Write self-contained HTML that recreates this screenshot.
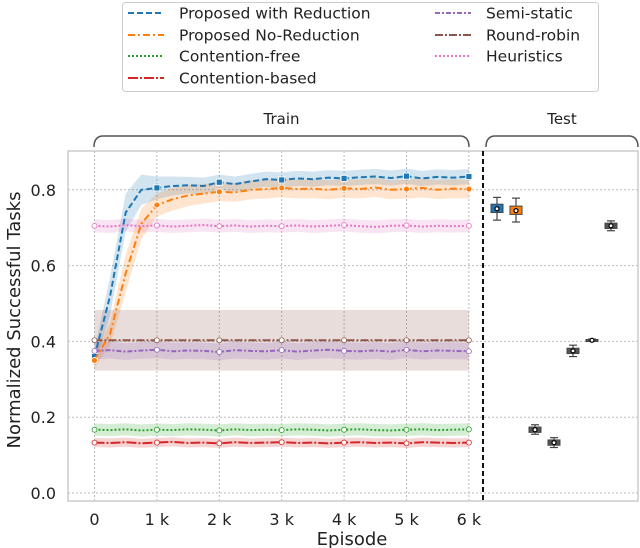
<!DOCTYPE html>
<html><head><meta charset="utf-8">
<style>
html,body{margin:0;padding:0;background:#fff;}
svg{display:block;font-family:"DejaVu Sans","Liberation Sans",sans-serif;}
</style></head>
<body>
<svg id="chart" width="640" height="548" viewBox="0 0 640 548" xmlns="http://www.w3.org/2000/svg">
<g id="grid"></g>
<g id="bands"></g>
<g id="lines"></g>
<g id="test"></g>
<g id="axes"></g>
<g id="legend"></g>
</svg>
<script>
const episodes = [0,250,500,750,1000,1250,1500,1750,2000,2250,2500,2750,3000,3250,3500,3750,4000,4250,4500,4750,5000,5250,5500,5750,6000];
const blueMean = [0.36,0.52,0.74,0.80,0.805,0.81,0.812,0.81,0.82,0.815,0.822,0.828,0.826,0.83,0.828,0.832,0.83,0.833,0.835,0.831,0.836,0.83,0.834,0.832,0.835];
const orangeMean = [0.35,0.42,0.58,0.71,0.76,0.775,0.785,0.79,0.795,0.793,0.8,0.802,0.805,0.802,0.803,0.8,0.804,0.802,0.806,0.8,0.802,0.805,0.8,0.803,0.802];
const blueStd = [0.02,0.05,0.05,0.04,0.03,0.025,0.022,0.022,0.02,0.02,0.02,0.02,0.02,0.02,0.02,0.02,0.02,0.02,0.02,0.02,0.02,0.02,0.02,0.02,0.02];
const orangeStd = [0.02,0.03,0.05,0.04,0.03,0.03,0.028,0.026,0.025,0.025,0.025,0.025,0.025,0.025,0.025,0.025,0.025,0.025,0.025,0.025,0.025,0.025,0.025,0.025,0.025];
const heurMean = [0.705,0.703,0.707,0.704,0.706,0.703,0.705,0.707,0.704,0.706,0.703,0.705,0.704,0.706,0.703,0.705,0.707,0.704,0.702,0.705,0.706,0.703,0.705,0.704,0.705];
const rrMean = [0.403,0.403,0.403,0.403,0.403,0.403,0.403,0.403,0.403,0.403,0.403,0.403,0.403,0.403,0.403,0.403,0.403,0.403,0.403,0.403,0.403,0.403,0.403,0.403,0.403];
const semiMean = [0.375,0.377,0.373,0.376,0.378,0.374,0.376,0.375,0.372,0.377,0.375,0.374,0.377,0.373,0.376,0.378,0.375,0.374,0.376,0.373,0.378,0.374,0.376,0.375,0.374];
const cfMean = [0.167,0.166,0.168,0.165,0.167,0.166,0.168,0.167,0.165,0.168,0.166,0.167,0.166,0.168,0.167,0.165,0.167,0.168,0.166,0.165,0.167,0.168,0.166,0.167,0.168];
const cbMean = [0.133,0.132,0.134,0.131,0.133,0.135,0.132,0.133,0.131,0.134,0.132,0.133,0.134,0.132,0.133,0.131,0.133,0.134,0.132,0.133,0.131,0.134,0.133,0.132,0.133];
const testNames = ["Proposed with Reduction","Proposed No-Reduction","Contention-free","Contention-based","Semi-static","Round-robin","Heuristics"];
const testMedian = [0.75,0.745,0.167,0.133,0.375,0.403,0.705];
const testQ1 = [0.74,0.735,0.16,0.126,0.368,0.401,0.698];
const testQ3 = [0.762,0.757,0.174,0.14,0.382,0.405,0.712];
const testLo = [0.72,0.715,0.155,0.12,0.36,0.4,0.692];
const testHi = [0.78,0.778,0.18,0.146,0.39,0.406,0.718];
const yTicks = [0,0.2,0.4,0.6,0.8];
const xTicks = [0,1000,2000,3000,4000,5000,6000];
const xTickLabels = ["0","1 k","2 k","3 k","4 k","5 k","6 k"];

const NS="http://www.w3.org/2000/svg";
const X0=94.5, XK=62.4, Y0=493, YU=379;
const xs=v=>X0+v/1000*XK, ys=v=>Y0-v*YU;
const testX=i=>497+i*19;
function mk(tag,attrs,parent,txt){const e=document.createElementNS(NS,tag);for(const k in attrs)e.setAttribute(k,attrs[k]);if(txt!==undefined)e.textContent=txt;parent.appendChild(e);return e;}
const G=id=>document.getElementById(id);

// plot frame
let f=mk('rect',{x:68,y:151,width:570,height:350,fill:'none',stroke:'#ccc','stroke-width':1.5},G('axes'));


// grid
yTicks.forEach((t,i)=>{
 let l=mk('line',{x1:68,x2:638,y1:ys(t),y2:ys(t),stroke:'#bbb','stroke-dasharray':'2,2'},G('grid'));
 
 
 let tx=mk('text',{x:56,y:ys(t)+6,'text-anchor':'end','font-size':16,fill:'#222'},G('axes'),t.toFixed(1));
 
 
});
xTicks.forEach((t,i)=>{
 let l=mk('line',{x1:xs(t),x2:xs(t),y1:151,y2:501,stroke:'#bbb','stroke-dasharray':'2,2'},G('grid'));
 
 
 let tx=mk('text',{x:xs(t),y:525,'text-anchor':'middle','font-size':16,fill:'#222'},G('axes'),xTickLabels[i]);
 
 
});
let dv=mk('line',{x1:483,x2:483,y1:151,y2:501,stroke:'#111','stroke-width':2,'stroke-dasharray':'5,3'},G('axes'));


let yt=mk('text',{x:20,y:320,'text-anchor':'middle','font-size':18,fill:'#222',transform:'rotate(-90 20 320)'},G('axes'),'Normalized Successful Tasks');


let xt=mk('text',{x:352,y:545,'text-anchor':'middle','font-size':18,fill:'#222'},G('axes'),'Episode');


// brackets
function bracket(x1,x2,label,name){
 let p=mk('path',{d:`M${x1},147 Q${x1},137 ${x1+8},136 L${x2-8},136 Q${x2},137 ${x2},147`,fill:'none',stroke:'#555','stroke-width':1.5},G('axes'));
 
 
 let t=mk('text',{x:(x1+x2)/2,y:124,'text-anchor':'middle','font-size':15,fill:'#222'},G('axes'),label);
 
 
}
bracket(94,469,'Train','train');bracket(486,638,'Test','test');

const series=[
 {name:'blue',mean:blueMean,std:blueStd,c:'#1f77b4',dash:'6,3',m:'sq'},
 {name:'orange',mean:orangeMean,std:orangeStd,c:'#ff7f0e',dash:'7,3,2,3',m:'ci'},
 {name:'heuristics',mean:heurMean,std:null,sd:0.017,c:'#e377c2',dash:'2,2',m:'w'},
 {name:'round-robin',mean:rrMean,std:null,sd:0.08,c:'#8c564b',dash:'8,2,2,2',m:'w'},
 {name:'semi-static',mean:semiMean,std:null,sd:0.022,c:'#9467bd',dash:'5,2,2,2',m:'w'},
 {name:'contention-free',mean:cfMean,std:null,sd:0.016,c:'#2ca02c',dash:'2,2',m:'w'},
 {name:'contention-based',mean:cbMean,std:null,sd:0.012,c:'#d62728',dash:'10,2,2,2',m:'w'}
];
series.forEach(s=>{
 const sd=i=>s.std?s.std[i]:s.sd;
 let up=episodes.map((e,i)=>xs(e)+','+ys(s.mean[i]+sd(i)));
 let dn=episodes.map((e,i)=>xs(e)+','+ys(s.mean[i]-sd(i))).reverse();
 let b=mk('polygon',{points:up.concat(dn).join(' '),fill:s.c,'fill-opacity':0.2},G('bands'));
 
 
 let l=mk('polyline',{points:episodes.map((e,i)=>xs(e)+','+ys(s.mean[i])).join(' '),fill:'none',stroke:s.c,'stroke-width':2,'stroke-dasharray':s.dash},G('lines'));
 
 
 episodes.forEach((e,i)=>{ if(e%1000) return;
  let m;
  if(s.m==='sq') m=mk('rect',{x:xs(e)-3,y:ys(s.mean[i])-3,width:6,height:6,fill:s.c,stroke:'#fff','stroke-width':0.8},G('lines'));
  else if(s.m==='ci') m=mk('circle',{cx:xs(e),cy:ys(s.mean[i]),r:3,fill:s.c,stroke:'#fff','stroke-width':0.8},G('lines'));
  else m=mk('circle',{cx:xs(e),cy:ys(s.mean[i]),r:2.5,fill:'#fff',stroke:s.c,'stroke-width':0.8},G('lines'));
  
  
 });
});
// test boxes
const boxFill=['#1f77b4','#ff7f0e','#555','#555','#555','#555','#555'];
testNames.forEach((n,i)=>{
 const x=testX(i);
 let g=mk('g',{},G('test'));
 
 
 mk('line',{x1:x,x2:x,y1:ys(testHi[i]),y2:ys(testLo[i]),stroke:'#444','stroke-width':1.2},g);
 mk('line',{x1:x-4,x2:x+4,y1:ys(testHi[i]),y2:ys(testHi[i]),stroke:'#444','stroke-width':1.2},g);
 mk('line',{x1:x-4,x2:x+4,y1:ys(testLo[i]),y2:ys(testLo[i]),stroke:'#444','stroke-width':1.2},g);
 mk('rect',{x:x-6,y:ys(testQ3[i]),width:12,height:Math.max(2,ys(testQ1[i])-ys(testQ3[i])),fill:boxFill[i],stroke:'#444','stroke-width':1},g);
 mk('circle',{cx:x,cy:ys(testMedian[i]),r:2,fill:'#fff',stroke:'#000','stroke-width':1.2},g);
});
// legend
const L=G('legend');
let lb=mk('rect',{x:122.5,y:2.5,width:476,height:89,rx:3,fill:'#fff',stroke:'#ccc','stroke-width':1},L);


const legItems=[
 ['Proposed with Reduction','#1f77b4','6,3',128,179,13],
 ['Proposed No-Reduction','#ff7f0e','7,3,2,3',128,179,35],
 ['Contention-free','#2ca02c','2,2',128,179,56],
 ['Contention-based','#d62728','10,2,2,2',128,179,78],
 ['Semi-static','#9467bd','5,2,2,2',435,486,13],
 ['Round-robin','#8c564b','8,2,2,2',435,486,35],
 ['Heuristics','#e377c2','2,2',435,486,56]
];
legItems.forEach(it=>{
 let g=mk('g',{},L);
 
 
 mk('line',{x1:it[3],x2:it[3]+36,y1:it[5],y2:it[5],stroke:it[1],'stroke-width':2,'stroke-dasharray':it[2]},g);
 mk('text',{x:it[4],y:it[5]+5.5,'font-size':15.5,fill:'#222'},g,it[0]);
});
</script>
</body></html>
